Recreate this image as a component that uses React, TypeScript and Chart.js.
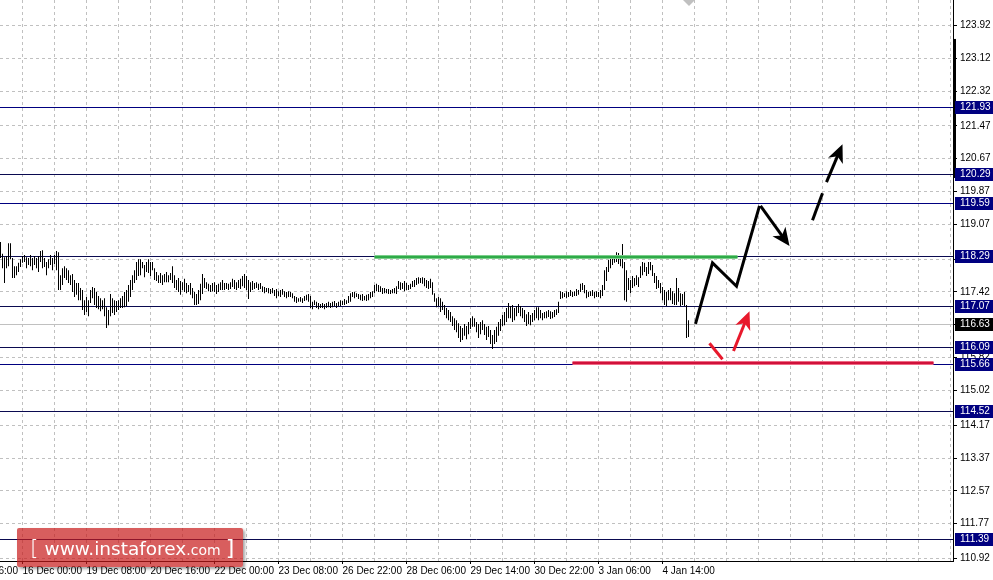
import React, { useEffect, useRef } from 'react';
import { Chart, registerables } from 'chart.js';
Chart.register(...registerables);

// H1 bars (one per hour), index 0 = first visible bar
const barHigh = [
  118.64, 118.35, 118.27, 118.30, 118.61, 118.61, 118.25, 118.05, 118.05, 118.13,
  118.22, 118.30, 118.32, 118.27, 118.25, 118.32, 118.25, 118.30, 118.25, 118.30,
  118.42, 118.44, 118.25, 118.15, 118.22, 118.32, 118.25, 118.32, 118.42, 118.39,
  117.83, 118.00, 118.05, 118.00, 117.95, 117.83, 117.86, 117.71, 117.64, 117.64,
  117.52, 117.47, 117.22, 117.30, 117.22, 117.47, 117.54, 117.52, 117.42, 117.32,
  117.27, 117.22, 117.27, 117.05, 116.98, 117.37, 117.27, 117.22, 117.20, 117.22,
  117.27, 117.32, 117.42, 117.47, 117.59, 117.71, 117.83, 117.95, 118.15, 118.22,
  118.22, 118.15, 118.08, 118.15, 118.22, 118.15, 118.15, 118.00, 117.91, 117.83,
  117.88, 117.83, 117.86, 117.91, 117.83, 117.88, 118.05, 117.83, 117.71, 117.76,
  117.69, 117.66, 117.74, 117.64, 117.59, 117.64, 117.52, 117.42, 117.37, 117.47,
  117.62, 117.86, 117.76, 117.66, 117.62, 117.59, 117.64, 117.66, 117.59, 117.62,
  117.66, 117.71, 117.64, 117.64, 117.62, 117.66, 117.74, 117.71, 117.66, 117.71,
  117.74, 117.81, 117.86, 117.81, 117.71, 117.66, 117.69, 117.64, 117.66, 117.62,
  117.64, 117.56, 117.54, 117.52, 117.52, 117.49, 117.52, 117.47, 117.49, 117.44,
  117.47, 117.49, 117.44, 117.42, 117.44, 117.42, 117.39, 117.32, 117.30, 117.27,
  117.30, 117.27, 117.32, 117.35, 117.37, 117.32, 117.18, 117.22, 117.18, 117.15,
  117.13, 117.15, 117.13, 117.15, 117.18, 117.15, 117.18, 117.20, 117.15, 117.18,
  117.22, 117.20, 117.25, 117.22, 117.32, 117.39, 117.42, 117.42, 117.39, 117.37,
  117.35, 117.37, 117.32, 117.35, 117.37, 117.42, 117.44, 117.59, 117.62, 117.59,
  117.56, 117.52, 117.52, 117.49, 117.49, 117.47, 117.49, 117.52, 117.56, 117.69,
  117.66, 117.64, 117.69, 117.64, 117.59, 117.62, 117.69, 117.71, 117.76, 117.78,
  117.76, 117.78, 117.76, 117.71, 117.69, 117.74, 117.66, 117.39, 117.27, 117.30,
  117.27, 117.18, 117.10, 117.03, 116.98, 116.93, 116.83, 116.78, 116.73, 116.66,
  116.59, 116.54, 116.64, 116.59, 116.69, 116.78, 116.83, 116.78, 116.69, 116.64,
  116.69, 116.73, 116.64, 116.57, 116.59, 116.49, 116.37, 116.49, 116.57, 116.69,
  116.76, 116.86, 116.93, 117.03, 117.15, 117.08, 117.10, 117.03, 117.08, 117.13,
  117.08, 117.03, 116.98, 116.88, 116.93, 116.86, 116.91, 116.98, 117.05, 117.05,
  116.98, 116.91, 116.93, 116.95, 116.98, 116.95, 116.93, 116.98, 117.00, 117.18,
  117.44, 117.42, 117.39, 117.44, 117.42, 117.47, 117.42, 117.44, 117.49, 117.47,
  117.62, 117.64, 117.59, 117.47, 117.42, 117.44, 117.47, 117.42, 117.44, 117.42,
  117.47, 117.59, 117.95, 118.03, 118.20, 118.27, 118.32, 118.30, 118.39, 118.37,
  118.27, 118.59, 118.15, 117.95, 117.76, 117.71, 117.81, 117.76, 117.83, 117.78,
  118.05, 118.15, 118.13, 118.03, 118.15, 118.15, 118.08, 117.88, 117.81, 117.71,
  117.64, 117.54, 117.47, 117.42, 117.47, 117.52, 117.44, 117.39, 117.76, 117.52,
  117.39, 117.37, 117.42, 117.10, 116.73,
];
const barLow = [
  118.25, 118.00, 117.64, 118.00, 118.05, 118.22, 117.76, 117.76, 117.83, 117.91,
  118.03, 118.13, 118.15, 118.00, 118.08, 118.05, 117.95, 118.08, 118.00, 117.91,
  118.15, 118.00, 118.03, 117.83, 118.00, 118.08, 117.95, 118.10, 117.95, 117.47,
  117.47, 117.59, 117.76, 117.71, 117.64, 117.59, 117.42, 117.30, 117.35, 117.22,
  117.22, 116.98, 116.86, 116.93, 116.83, 117.15, 117.27, 117.10, 117.03, 117.00,
  116.95, 117.00, 116.83, 116.54, 116.61, 116.83, 116.91, 116.86, 116.93, 116.98,
  117.03, 117.03, 117.05, 117.08, 117.18, 117.30, 117.47, 117.64, 117.71, 117.81,
  117.83, 118.00, 117.78, 117.91, 117.88, 117.81, 117.95, 117.71, 117.69, 117.64,
  117.64, 117.59, 117.66, 117.66, 117.66, 117.71, 117.64, 117.52, 117.47, 117.42,
  117.35, 117.47, 117.42, 117.39, 117.42, 117.35, 117.27, 117.10, 117.10, 117.13,
  117.22, 117.37, 117.52, 117.49, 117.44, 117.42, 117.44, 117.42, 117.37, 117.42,
  117.47, 117.47, 117.47, 117.49, 117.47, 117.49, 117.54, 117.49, 117.47, 117.52,
  117.49, 117.56, 117.52, 117.47, 117.25, 117.42, 117.47, 117.49, 117.52, 117.47,
  117.49, 117.42, 117.39, 117.42, 117.39, 117.37, 117.39, 117.32, 117.27, 117.32,
  117.30, 117.35, 117.30, 117.27, 117.30, 117.30, 117.27, 117.18, 117.15, 117.18,
  117.18, 117.15, 117.20, 117.22, 117.18, 117.03, 117.00, 117.10, 117.03, 117.00,
  117.03, 117.03, 117.00, 117.03, 117.05, 117.03, 117.05, 117.08, 117.03, 117.08,
  117.08, 117.10, 117.10, 117.13, 117.15, 117.18, 117.30, 117.27, 117.30, 117.25,
  117.22, 117.20, 117.22, 117.20, 117.22, 117.27, 117.30, 117.39, 117.44, 117.42,
  117.42, 117.37, 117.39, 117.39, 117.37, 117.37, 117.39, 117.39, 117.37, 117.49,
  117.47, 117.49, 117.44, 117.47, 117.47, 117.49, 117.54, 117.54, 117.59, 117.62,
  117.64, 117.62, 117.56, 117.52, 117.49, 117.52, 117.35, 117.18, 117.05, 117.08,
  116.93, 116.98, 116.86, 116.78, 116.73, 116.69, 116.59, 116.49, 116.44, 116.30,
  116.20, 116.25, 116.35, 116.27, 116.39, 116.52, 116.57, 116.57, 116.44, 116.30,
  116.39, 116.49, 116.37, 116.25, 116.32, 116.15, 116.03, 116.15, 116.20, 116.35,
  116.47, 116.59, 116.61, 116.69, 116.78, 116.78, 116.69, 116.73, 116.83, 116.91,
  116.83, 116.78, 116.69, 116.59, 116.64, 116.61, 116.69, 116.73, 116.78, 116.73,
  116.78, 116.73, 116.78, 116.78, 116.81, 116.76, 116.78, 116.81, 116.86, 116.91,
  117.25, 117.27, 117.30, 117.27, 117.30, 117.32, 117.30, 117.32, 117.32, 117.35,
  117.42, 117.47, 117.39, 117.27, 117.30, 117.32, 117.32, 117.27, 117.30, 117.30,
  117.27, 117.32, 117.47, 117.69, 117.91, 118.00, 118.08, 118.13, 118.15, 118.10,
  118.05, 118.00, 117.22, 117.18, 117.47, 117.39, 117.52, 117.56, 117.59, 117.54,
  117.76, 117.83, 117.91, 117.81, 117.86, 117.95, 117.81, 117.64, 117.49, 117.52,
  117.39, 117.22, 117.10, 117.08, 117.22, 117.22, 117.13, 117.10, 117.10, 117.18,
  117.08, 117.10, 117.08, 116.30, 116.32,
];

const yTicks = [110.92, 111.77, 112.57, 113.37, 114.17, 115.02, 115.82, 116.62, 117.42, 118.22,
  119.07, 119.87, 120.67, 121.47, 122.32, 123.12, 123.92];
const xGridBars = [-21, -5, 11, 27, 43, 59, 75, 91, 107, 123, 139, 155, 171, 187, 203, 219, 235,
  251, 267, 283, 299, 315, 331, 347, 363, 379, 395, 411, 427, 443, 459, 475];
const xLabelBars = [-21, 11, 43, 75, 107, 139, 171, 203, 235, 267, 299, 331];
const xLabels = ['14 Dec 16:00', '16 Dec 00:00', '19 Dec 08:00', '20 Dec 16:00', '22 Dec 00:00',
  '23 Dec 08:00', '26 Dec 22:00', '28 Dec 06:00', '29 Dec 14:00', '30 Dec 22:00', '3 Jan 06:00', '4 Jan 14:00'];

const levelPrices = [121.93, 120.29, 119.59, 118.29, 117.07, 116.09, 115.66, 114.52, 111.39];
const levelDark = [false, true, false, true, true, true, false, true, true];
const currentPrice = 116.63;
const greenLine = [[187, 118.27], [368.5, 118.27]];
const redLine = [[286, 115.70], [466.5, 115.70]];
const blackPath = [[347.5, 116.64], [356, 118.13], [368, 117.56], [379.5, 119.52]];
const blackArrowDown = [[380, 119.52], [394.5, 118.54]];
const blackDash = [[406, 119.17], [411, 119.83]];
const blackArrowUp = [[413, 120.10], [421, 121.02]];
const redDash = [[354.5, 116.17], [361, 115.78]];
const redArrowUp = [[366.5, 115.98], [374.5, 116.95]];
const axisMarker = [123.59, 120.20];

const FONT = "'Liberation Sans', Arial, sans-serif";
const NAVY = '#000080';
const DARK_NAVY = '#0a0a50';

function App() {
  const ref = useRef<HTMLCanvasElement>(null);
  useEffect(() => {
    document.body.style.margin = '0';
    const px = (chart: any, p: number[]) => [chart.scales.x.getPixelForValue(p[0]), chart.scales.y.getPixelForValue(p[1])];

    const drawPoly = (ctx: any, chart: any, pts: number[][], color: string, width: number, head: boolean) => {
      const pp = pts.map((p) => px(chart, p));
      const hl = 18, hw = 8;
      ctx.save();
      ctx.strokeStyle = color;
      ctx.fillStyle = color;
      ctx.lineWidth = width;
      ctx.lineJoin = 'miter';
      ctx.lineCap = 'butt';
      const n = pp.length;
      let end = pp[n - 1];
      let ang = 0;
      if (head) {
        const a = pp[n - 2];
        ang = Math.atan2(end[1] - a[1], end[0] - a[0]);
        end = [end[0] - Math.cos(ang) * hl * 0.7, end[1] - Math.sin(ang) * hl * 0.7];
      }
      ctx.beginPath();
      ctx.moveTo(pp[0][0], pp[0][1]);
      for (let i = 1; i < n - 1; i++) ctx.lineTo(pp[i][0], pp[i][1]);
      ctx.lineTo(end[0], end[1]);
      ctx.stroke();
      if (head) {
        const t = pp[n - 1];
        const bx = t[0] - Math.cos(ang) * hl, by = t[1] - Math.sin(ang) * hl;
        const nx = -Math.sin(ang) * hw, ny = Math.cos(ang) * hw;
        ctx.beginPath();
        ctx.moveTo(t[0], t[1]);
        ctx.lineTo(bx + nx, by + ny);
        ctx.lineTo(t[0] - Math.cos(ang) * hl * 0.72, t[1] - Math.sin(ang) * hl * 0.72);
        ctx.lineTo(bx - nx, by - ny);
        ctx.closePath();
        ctx.fill();
      }
      ctx.restore();
    };

    const overlay = {
      id: 'overlay',
      beforeDatasetsDraw(chart: any) {
        const { ctx, chartArea: ca, scales: { y } } = chart;
        ctx.save();
        ctx.beginPath();
        ctx.rect(ca.left, ca.top, ca.right - ca.left, ca.bottom - ca.top);
        ctx.clip();
        ctx.lineWidth = 1;
        const cy = Math.round(y.getPixelForValue(currentPrice)) + 0.5;
        ctx.strokeStyle = '#c0c0c0';
        ctx.beginPath(); ctx.moveTo(ca.left, cy); ctx.lineTo(ca.right, cy); ctx.stroke();
        levelPrices.forEach((p, i) => {
          const ly = Math.round(y.getPixelForValue(p)) + 0.5;
          ctx.strokeStyle = levelDark[i] ? DARK_NAVY : NAVY;
          ctx.beginPath(); ctx.moveTo(ca.left, ly); ctx.lineTo(ca.right, ly); ctx.stroke();
        });
        ctx.restore();
      },
      afterDatasetsDraw(chart: any) {
        const { ctx } = chart;
        const band = (pts: number[][], outer: string, inner: string) => {
          const a = px(chart, pts[0]), b = px(chart, pts[1]);
          const yy = Math.round(a[1]);
          ctx.save();
          ctx.fillStyle = outer; ctx.fillRect(a[0], yy - 2, b[0] - a[0], 4);
          ctx.fillStyle = inner; ctx.fillRect(a[0], yy - 1, b[0] - a[0], 2);
          ctx.restore();
        };
        band(greenLine, '#7ccf8a', '#2eaa48');
        band(redLine, '#ee6a84', '#d0103a');
        drawPoly(ctx, chart, blackPath, '#000', 3, false);
        drawPoly(ctx, chart, blackArrowDown, '#000', 3, true);
        drawPoly(ctx, chart, blackDash, '#000', 3, false);
        drawPoly(ctx, chart, blackArrowUp, '#000', 3, true);
        drawPoly(ctx, chart, redDash, '#e8192c', 3, false);
        drawPoly(ctx, chart, redArrowUp, '#e8192c', 3, true);
      },
      afterDraw(chart: any) {
        const { ctx, chartArea: ca, scales: { x, y } } = chart;
        ctx.save();
        // shift marker
        const tx = Math.round(x.getPixelForValue(barHigh.length - 1));
        ctx.fillStyle = '#c0c0c0';
        ctx.beginPath(); ctx.moveTo(tx - 6, 0); ctx.lineTo(tx + 6, 0); ctx.lineTo(tx, 6); ctx.closePath(); ctx.fill();
        // thick marker on axis
        const m1 = y.getPixelForValue(axisMarker[0]), m2 = y.getPixelForValue(axisMarker[1]);
        ctx.fillStyle = '#000';
        ctx.fillRect(ca.right, m1, 3, m2 - m1);
        ctx.font = `10px ${FONT}`;
        ctx.textBaseline = 'middle';
        ctx.textAlign = 'left';
        const box = (p: number, bg: string) => {
          const by = Math.round(y.getPixelForValue(p));
          ctx.fillStyle = bg;
          ctx.fillRect(ca.right + 2, by - 6, 38, 13);
          ctx.fillStyle = '#fff';
          ctx.fillText(p.toFixed(2), ca.right + 7, by + 0.5);
        };
        levelPrices.forEach((p) => box(p, NAVY));
        box(currentPrice, '#000');
        ctx.restore();
      },
    };

    const chart = new Chart(ref.current!, {
      type: 'bar',
      data: {
        datasets: [{
          data: barHigh.map((h, i) => ({ x: i, y: [barLow[i], h] })) as any,
          backgroundColor: '#000',
          borderWidth: 0,
          barThickness: 1,
          inflateAmount: 0,
          borderSkipped: false,
        } as any],
      },
      options: {
        responsive: false,
        devicePixelRatio: 1,
        animation: false,
        events: [],
        layout: { padding: 0 },
        plugins: { legend: { display: false }, tooltip: { enabled: false } },
        scales: {
          x: {
            type: 'linear',
            offset: false,
            bounds: 'data',
            min: -0.25,
            max: 476.25,
            afterBuildTicks: (s: any) => { s.ticks = xGridBars.map((v) => ({ value: v })); },
            afterFit: (s: any) => { s.height = 19; s.paddingLeft = 0; s.paddingRight = 0; },
            grid: {
              offset: false,
              color: '#c0c0c0',
              lineWidth: 1,
              tickLength: 3,
              tickColor: (c: any) => (c.tick && xLabelBars.includes(c.tick.value) ? '#000' : 'rgba(0,0,0,0)'),
            },
            border: { color: '#000', width: 1, dash: [3, 3] },
            ticks: {
              autoSkip: false,
              maxRotation: 0,
              align: 'start',
              padding: 1,
              color: '#000',
              font: { family: FONT, size: 10 },
              callback: (v: any) => {
                const i = xLabelBars.indexOf(Number(v));
                return i >= 0 ? xLabels[i] : '';
              },
            },
          } as any,
          y: {
            type: 'linear',
            position: 'right',
            bounds: 'data',
            min: 110.86,
            max: 124.54,
            afterBuildTicks: (s: any) => { s.ticks = yTicks.map((v) => ({ value: v })); },
            afterFit: (s: any) => { s.width = 40; s.paddingTop = 0; s.paddingBottom = 0; },
            grid: { color: '#c0c0c0', lineWidth: 1, tickLength: 4, tickColor: '#000' },
            border: { color: '#000', width: 1, dash: [3, 3] },
            ticks: {
              autoSkip: false,
              padding: 3,
              color: '#000',
              font: { family: FONT, size: 10 },
              callback: (v: any) => Number(v).toFixed(2),
            },
          } as any,
        },
      },
      plugins: [overlay],
    });
    return () => chart.destroy();
  }, []);

  return (
    <div style={{ position: 'relative', width: 993, height: 580, background: '#fff' }}>
      <canvas ref={ref} width={993} height={580} style={{ display: 'block', width: 993, height: 580 }} />
      <div style={{
        position: 'absolute', left: 17, top: 528, width: 226, height: 39,
        background: 'rgba(200,25,25,0.7)', borderRadius: 2,
        boxShadow: '2px 2px 3px rgba(0,0,0,0.35)', color: '#fff',
        fontFamily: "'DejaVu Sans', sans-serif",
      }}>
        <div style={{
          position: 'absolute', left: 13, top: 0, height: 39, display: 'flex',
          alignItems: 'baseline', lineHeight: '39px', whiteSpace: 'pre',
        }}>
          <span style={{ fontSize: 22, fontWeight: 300 }}>[</span>
          <span style={{ fontSize: 18.5, marginLeft: 6 }}>www.instaforex</span>
          <span style={{ fontSize: 14 }}>.com</span>
          <span style={{ fontSize: 22, marginLeft: 5 }}>]</span>
        </div>
      </div>
    </div>
  );
}

export default App;
